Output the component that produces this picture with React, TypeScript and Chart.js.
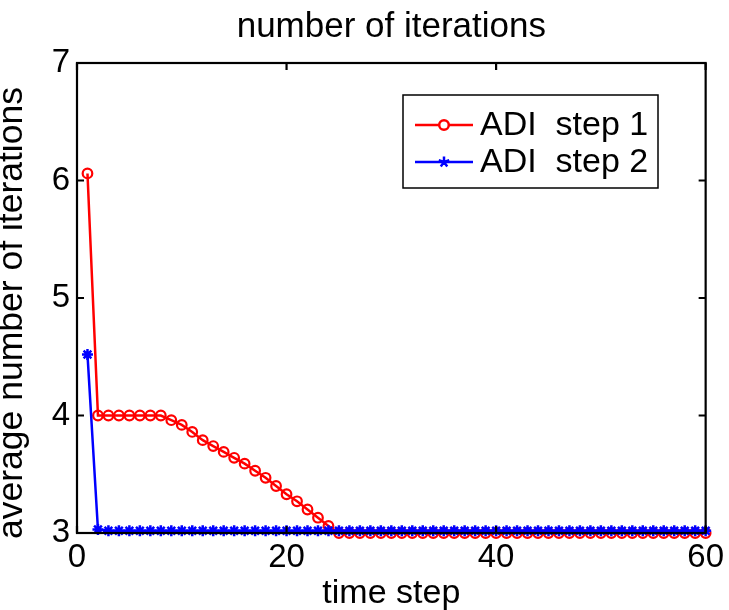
import React, { useEffect, useRef } from "react";
import { Chart, registerables } from "chart.js";

Chart.register(...registerables);

const timeSteps = [
  1, 2, 3, 4, 5, 6, 7, 8, 9, 10, 11, 12, 13, 14, 15, 16, 17, 18, 19, 20,
  21, 22, 23, 24, 25, 26, 27, 28, 29, 30, 31, 32, 33, 34, 35, 36, 37, 38, 39, 40,
  41, 42, 43, 44, 45, 46, 47, 48, 49, 50, 51, 52, 53, 54, 55, 56, 57, 58, 59, 60,
];

const adiStep1 = [
  6.06, 4.0, 4.0, 4.0, 4.0, 4.0, 4.0, 4.0, 3.96, 3.92,
  3.86, 3.79, 3.74, 3.69, 3.64, 3.59, 3.53, 3.47, 3.4, 3.33,
  3.27, 3.2, 3.13, 3.06, 3.0, 3.0, 3.0, 3.0, 3.0, 3.0,
  3.0, 3.0, 3.0, 3.0, 3.0, 3.0, 3.0, 3.0, 3.0, 3.0,
  3.0, 3.0, 3.0, 3.0, 3.0, 3.0, 3.0, 3.0, 3.0, 3.0,
  3.0, 3.0, 3.0, 3.0, 3.0, 3.0, 3.0, 3.0, 3.0, 3.0,
];

const adiStep2 = [
  4.52, 3.03, 3.02, 3.02, 3.02, 3.02, 3.02, 3.02, 3.02, 3.02,
  3.02, 3.02, 3.02, 3.02, 3.02, 3.02, 3.02, 3.02, 3.02, 3.02,
  3.02, 3.02, 3.02, 3.02, 3.02, 3.02, 3.02, 3.02, 3.02, 3.02,
  3.02, 3.02, 3.02, 3.02, 3.02, 3.02, 3.02, 3.02, 3.02, 3.02,
  3.02, 3.02, 3.02, 3.02, 3.02, 3.02, 3.02, 3.02, 3.02, 3.02,
  3.02, 3.02, 3.02, 3.02, 3.02, 3.02, 3.02, 3.02, 3.02, 3.02,
];

const xTicks = [0, 20, 40, 60];
const yTicks = [3, 4, 5, 6, 7];
const seriesNames = ["ADI  step 1", "ADI  step 2"];
const titleText = "number of iterations";
const xLabel = "time step";
const yLabel = "average number of iterations";

const FONT = "Arial, 'Liberation Sans', Helvetica, sans-serif";

const matlabPlugin = {
  id: "matlabDecor",
  afterDraw(chart: any) {
    const ctx = chart.ctx as CanvasRenderingContext2D;
    const a = chart.chartArea;
    const xs = chart.scales.x;
    const ys = chart.scales.y;
    ctx.save();
    // box
    ctx.strokeStyle = "#000";
    ctx.lineWidth = 2.2;
    ctx.strokeRect(a.left, a.top, a.right - a.left, a.bottom - a.top);
    // inward ticks
    const tl = 7;
    ctx.beginPath();
    xTicks.forEach((v) => {
      const px = xs.getPixelForValue(v);
      ctx.moveTo(px, a.bottom);
      ctx.lineTo(px, a.bottom - tl);
      ctx.moveTo(px, a.top);
      ctx.lineTo(px, a.top + tl);
    });
    yTicks.forEach((v) => {
      const py = ys.getPixelForValue(v);
      ctx.moveTo(a.left, py);
      ctx.lineTo(a.left + tl, py);
      ctx.moveTo(a.right, py);
      ctx.lineTo(a.right - tl, py);
    });
    ctx.stroke();

    // title
    ctx.fillStyle = "#000";
    ctx.font = `35px ${FONT}`;
    ctx.textAlign = "center";
    ctx.textBaseline = "alphabetic";
    ctx.fillText(titleText, (a.left + a.right) / 2, 37);
    // x label
    ctx.font = `34px ${FONT}`;
    ctx.fillText(xLabel, (a.left + a.right) / 2, 603);
    // y label
    ctx.save();
    ctx.font = `35.5px ${FONT}`;
    ctx.translate(22, 313);
    ctx.rotate(-Math.PI / 2);
    ctx.fillText(yLabel, 0, 0);
    ctx.restore();

    // legend
    const lx = 403, ly = 95, lw = 255, lh = 93;
    ctx.fillStyle = "#fff";
    ctx.fillRect(lx, ly, lw, lh);
    ctx.strokeStyle = "#000";
    ctx.lineWidth = 1.5;
    ctx.strokeRect(lx, ly, lw, lh);
    const rows = [125, 162];
    const colors = ["#ff0000", "#0000ff"];
    rows.forEach((ry, i) => {
      ctx.strokeStyle = colors[i];
      ctx.lineWidth = 2.5;
      ctx.beginPath();
      ctx.moveTo(415, ry);
      ctx.lineTo(473, ry);
      ctx.stroke();
      if (i === 0) {
        ctx.beginPath();
        ctx.arc(444, ry, 4.8, 0, Math.PI * 2);
        ctx.fillStyle = "#fff";
        ctx.fill();
        ctx.stroke();
      } else {
        ctx.beginPath();
        for (let k = 0; k < 5; k++) {
          const ang = (k * Math.PI * 2) / 5 - Math.PI / 2;
          ctx.moveTo(444, ry);
          ctx.lineTo(444 + Math.cos(ang) * 5.5, ry + Math.sin(ang) * 5.5);
        }
        ctx.stroke();
      }
      ctx.fillStyle = "#000";
      ctx.font = `34px ${FONT}`;
      ctx.textAlign = "left";
      ctx.textBaseline = "middle";
      ctx.fillText(seriesNames[i], 480, ry + 1);
    });
    ctx.restore();
  },
};

export default function App() {
  const ref = useRef<HTMLCanvasElement | null>(null);
  useEffect(() => {
    if (!ref.current) return;
    const chart = new Chart(ref.current, {
      type: "line",
      data: {
        datasets: [
          {
            label: seriesNames[0],
            data: timeSteps.map((t, i) => ({ x: t, y: adiStep1[i] })),
            borderColor: "#ff0000",
            backgroundColor: "rgba(0,0,0,0)",
            borderWidth: 2.5,
            pointStyle: "circle",
            pointRadius: 4.8,
            pointBorderWidth: 2.2,
            pointBorderColor: "#ff0000",
            pointBackgroundColor: "rgba(0,0,0,0)",
            tension: 0,
            clip: false as any,
            order: 1,
          },
          {
            label: seriesNames[1],
            data: timeSteps.map((t, i) => ({ x: t, y: adiStep2[i] })),
            borderColor: "#0000ff",
            backgroundColor: "#0000ff",
            borderWidth: 2.5,
            pointStyle: "star",
            pointRadius: 5.5,
            pointBorderWidth: 2.5,
            pointBorderColor: "#0000ff",
            tension: 0,
            clip: false as any,
            order: 0,
          },
        ],
      },
      options: {
        responsive: false,
        animation: false,
        layout: { padding: { top: 63, right: 20, left: 0, bottom: 0 } },
        plugins: {
          legend: { display: false },
          title: { display: false },
          tooltip: { enabled: false },
        },
        scales: {
          x: {
            type: "linear",
            min: 0,
            max: 60,
            afterFit: (s: any) => {
              s.height = 77;
            },
            afterBuildTicks: (s: any) => {
              s.ticks = xTicks.map((v) => ({ value: v }));
            },
            grid: { display: false, drawTicks: false },
            border: { display: false },
            ticks: {
              color: "#000",
              padding: 5,
              maxRotation: 0,
              font: { family: FONT, size: 33 },
            },
          },
          y: {
            type: "linear",
            min: 3,
            max: 7,
            afterFit: (s: any) => {
              s.width = 77;
            },
            afterBuildTicks: (s: any) => {
              s.ticks = yTicks.map((v) => ({ value: v }));
            },
            grid: { display: false, drawTicks: false },
            border: { display: false },
            ticks: {
              color: "#000",
              padding: 7,
              font: { family: FONT, size: 33 },
            },
          },
        },
      },
      plugins: [matlabPlugin],
    });
    return () => chart.destroy();
  }, []);
  return (
    <div style={{ position: "absolute", left: 0, top: 0, width: 729, height: 610, background: "#fff" }}>
      <canvas ref={ref} width={729} height={610} style={{ display: "block" }} />
    </div>
  );
}
